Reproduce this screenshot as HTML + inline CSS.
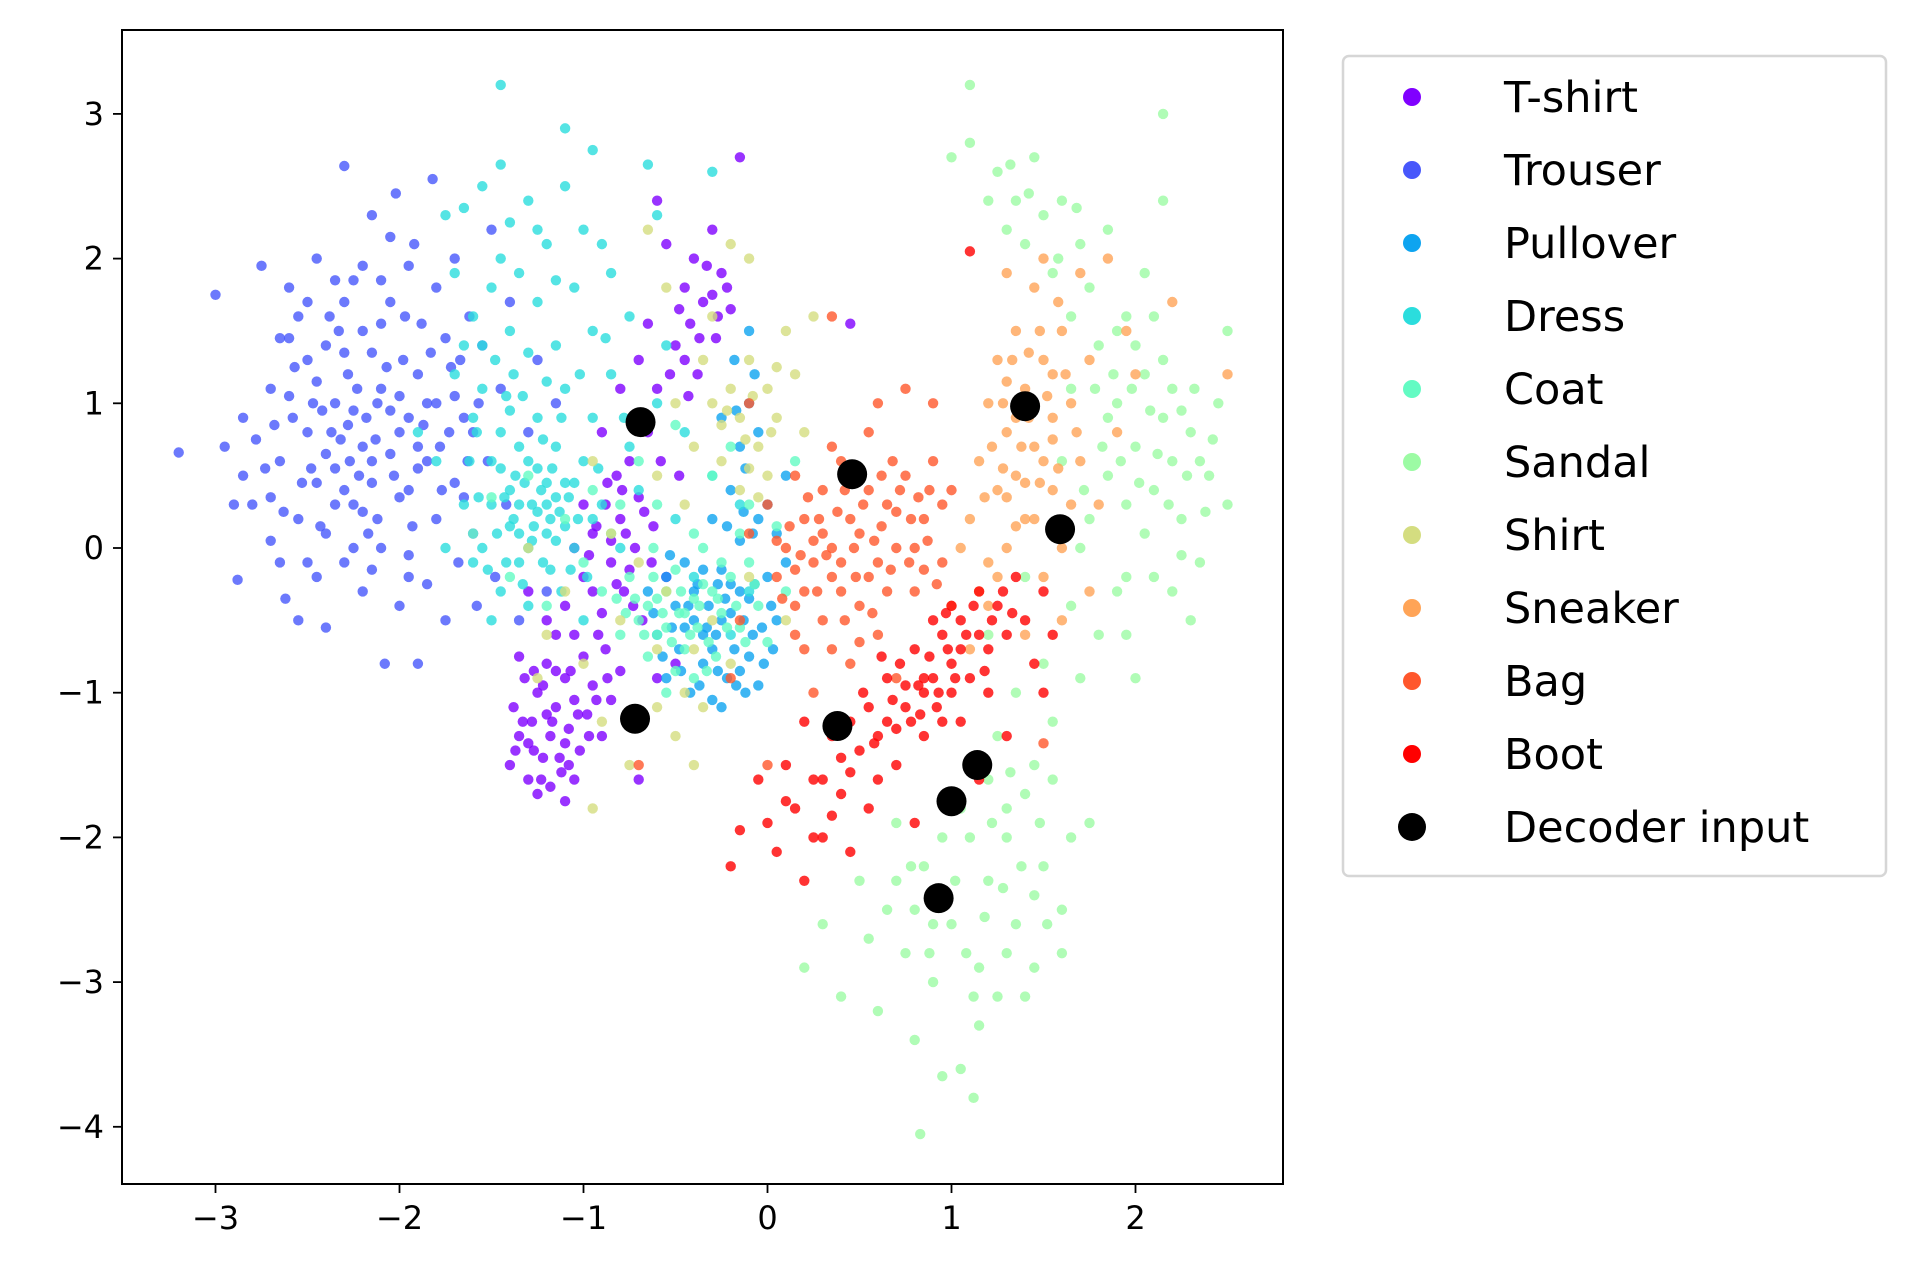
<!DOCTYPE html>
<html><head><meta charset="utf-8"><style>
body{margin:0;background:#fff}
svg{display:block}
text{font-family:"DejaVu Sans","Liberation Sans",sans-serif;fill:#000}
</style></head><body>
<svg id="chart" width="1908" height="1286" viewBox="0 0 1908 1286" xmlns="http://www.w3.org/2000/svg">
<g id="points"></g>
<rect x="122" y="30" width="1161" height="1154" fill="none" stroke="#000" stroke-width="2"/>
<g id="xticks"></g>
<g id="yticks"></g>
<g id="legend">
<rect x="1343" y="56" width="543" height="820" rx="6" fill="#fff" fill-opacity="0.8" stroke="#d6d6d6" stroke-width="2.5"/>
</g>
</svg>
<script>
const classNames=["T-shirt","Trouser","Pullover","Dress","Coat","Sandal","Shirt","Sneaker","Bag","Boot"];
const classColors=["#8000ff","#4757fb","#0ea4f0","#2bdddd","#63fbc3","#9cfba4","#d4dd80","#ffa457","#ff572c","#ff0000"];
const xTicks=[-3,-2,-1,0,1,2];
const yTicks=[3,2,1,0,-1,-2,-3,-4];
const tshirt=[[-1.4,-1.5],[-1.38,-1.1],[-1.35,-1.3],[-1.32,-0.9],[-1.3,-1.6],[-1.28,-1.2],[-1.25,-1.0],[-1.22,-1.45],[-1.2,-0.8],[-1.18,-1.3],[-1.15,-1.1],[-1.12,-1.55],[-1.1,-0.9],[-1.08,-1.25],[-1.05,-1.05],[-1.02,-1.4],[-1.0,-0.75],[-0.98,-1.15],[-0.95,-0.95],[-0.9,-1.3],[-0.88,-0.7],[-0.85,-1.05],[-0.8,-0.85],[-1.25,-1.7],[-1.1,-1.75],[-1.35,-0.75],[-1.15,-0.6],[-0.7,-1.6],[-1.3,-1.35],[-1.2,-1.15],[-1.1,-1.35],[-1.15,-0.85],[-1.05,-1.6],[-1.1,-0.4],[-1.0,-0.2],[-0.95,0.1],[-0.9,-0.45],[-0.88,0.3],[-0.85,-0.1],[-0.82,0.5],[-0.8,0.2],[-0.78,-0.3],[-0.75,0.6],[-0.72,0.0],[-0.7,0.35],[-0.68,-0.5],[-0.65,0.8],[-0.62,0.15],[-0.6,1.1],[-0.55,-0.2],[-0.5,1.4],[-0.48,0.5],[-0.45,1.8],[-0.42,1.55],[-0.4,2.0],[-0.38,1.2],[-0.35,1.7],[-0.3,2.2],[-0.28,1.45],[-0.25,1.9],[-0.2,1.65],[-0.15,2.7],[-0.55,2.1],[-0.6,2.4],[-0.65,1.55],[-0.7,1.3],[-0.8,1.1],[-0.9,0.8],[-1.0,0.3],[-1.05,-0.6],[-1.2,-0.5],[-1.3,-0.3],[-0.5,-0.8],[-0.6,-0.9],[0.45,1.55],[-0.95,-0.3],[-0.85,0.05],[-0.75,-0.15],[-0.92,-0.6],[-0.45,1.3],[-0.3,1.75],[-1.33,-1.2],[-1.27,-1.4],[-1.22,-0.95],[-1.17,-1.2],[-1.13,-1.45],[-1.07,-0.85],[-1.03,-1.15],[-0.97,-1.3],[-1.23,-1.6],[-1.37,-1.4],[-1.18,-1.65],[-1.08,-1.5],[-0.93,-1.05],[-0.87,-0.9],[-1.27,-0.85],[-0.82,-0.25],[-0.77,0.1],[-0.73,-0.4],[-0.67,0.25],[-0.63,-0.1],[-0.87,0.45],[-0.93,0.15],[-0.97,-0.05],[-0.58,0.6],[-0.53,1.2],[-0.48,1.65],[-0.37,1.45],[-0.33,1.95],[-0.27,1.6],[-0.22,1.8],[-0.43,1.05],[-1.05,0.0],[-0.79,0.4]];
const trouser=[[-3.2,0.66],[-3.0,1.75],[-2.95,0.7],[-2.88,-0.22],[-2.85,0.5],[-2.8,0.3],[-2.75,1.95],[-2.7,1.1],[-2.7,0.05],[-2.65,1.45],[-2.65,0.6],[-2.62,-0.35],[-2.6,1.8],[-2.58,0.9],[-2.55,0.2],[-2.5,1.3],[-2.5,-0.1],[-2.48,0.55],[-2.45,2.0],[-2.42,0.95],[-2.4,-0.55],[-2.38,1.6],[-2.35,0.3],[-2.32,0.75],[-2.3,2.64],[-2.28,1.2],[-2.25,0.0],[-2.25,1.85],[-2.22,0.5],[-2.2,1.5],[-2.2,-0.3],[-2.18,0.9],[-2.15,2.3],[-2.12,0.2],[-2.1,1.1],[-2.08,-0.8],[-2.05,0.65],[-2.05,1.7],[-2.02,2.45],[-2.0,0.35],[-1.98,1.3],[-1.95,-0.05],[-1.95,0.9],[-1.92,2.1],[-1.9,-0.8],[-1.9,0.55],[-1.88,1.55],[-1.85,-0.25],[-1.85,1.0],[-1.82,2.55],[-1.8,0.2],[-1.8,1.8],[-1.78,0.7],[-1.75,-0.5],[-1.72,1.25],[-1.7,0.45],[-1.7,2.0],[-1.68,-0.1],[-1.65,0.9],[-1.62,1.6],[-1.6,0.1],[-1.58,-0.4],[-1.55,1.4],[-1.52,0.6],[-1.5,2.2],[-1.48,-0.2],[-1.45,1.1],[-1.42,0.3],[-1.4,1.7],[-1.35,-0.5],[-1.3,0.8],[-1.25,1.3],[-1.2,-0.3],[-1.15,1.0],[-2.6,1.05],[-2.4,1.4],[-2.3,0.4],[-2.15,1.35],[-2.0,0.8],[-1.9,1.2],[-2.35,1.0],[-2.5,0.8],[-2.2,0.7],[-1.75,1.45],[-1.6,0.8],[-2.1,1.55],[-2.3,1.7],[-1.95,0.4],[-2.7,0.35],[-2.45,-0.2],[-2.55,1.6],[-2.0,-0.4],[-1.85,0.6],[-2.25,0.95],[-2.15,0.45],[-2.4,0.65],[-1.7,1.05],[-2.05,2.15],[-2.55,-0.5],[-2.1,0.0],[-2.3,1.35],[-1.8,1.0],[-2.45,1.15],[-2.0,1.05],[-2.2,0.25],[-1.65,0.35],[-2.78,0.75],[-2.73,0.55],[-2.68,0.85],[-2.63,0.25],[-2.57,1.25],[-2.53,0.45],[-2.47,1.0],[-2.43,0.15],[-2.37,0.8],[-2.33,1.5],[-2.27,0.6],[-2.23,1.1],[-2.17,0.1],[-2.13,0.75],[-2.07,1.25],[-2.03,0.5],[-1.97,1.6],[-1.93,0.15],[-1.87,0.85],[-1.83,1.35],[-1.77,0.4],[-1.73,0.8],[-1.67,1.3],[-1.63,0.6],[-1.57,1.0],[-2.6,1.45],[-2.5,1.7],[-2.35,1.85],[-2.2,1.95],[-2.1,1.85],[-1.95,1.95],[-2.4,0.1],[-2.3,-0.1],[-2.15,-0.15],[-1.95,-0.2],[-2.65,-0.1],[-2.85,0.9],[-2.9,0.3],[-2.45,0.45],[-2.25,0.3],[-2.05,0.95],[-1.9,0.7],[-2.35,0.55],[-2.15,0.6],[-2.28,0.85],[-2.12,1.0]];
const pullover=[[-0.65,-0.3],[-0.6,-0.6],[-0.55,-0.9],[-0.5,-0.4],[-0.48,-0.7],[-0.45,-0.1],[-0.42,-1.0],[-0.4,-0.5],[-0.38,-0.25],[-0.35,-0.8],[-0.32,-0.4],[-0.3,-1.05],[-0.28,-0.6],[-0.25,-0.15],[-0.22,-0.9],[-0.2,-0.45],[-0.18,-0.7],[-0.15,0.05],[-0.12,-1.0],[-0.1,-0.35],[-0.08,-0.6],[-0.05,0.2],[-0.02,-0.8],[0.0,-0.2],[0.05,-0.5],[-0.2,0.4],[-0.15,0.7],[-0.1,1.0],[-0.18,1.3],[-0.05,0.8],[-0.12,0.55],[0.0,0.3],[-0.25,0.9],[-0.3,0.2],[-0.45,-0.55],[-0.35,-0.6],[-0.25,-0.5],[-0.15,-0.3],[-0.55,-0.2],[0.1,-0.1],[-0.1,1.5],[-0.25,-1.1],[0.1,0.5],[-0.05,-0.95],[0.05,0.1],[-0.4,-0.3],[-0.3,-0.7],[-0.2,-0.25],[-0.1,-0.75],[-0.62,-0.45],[-0.57,-0.75],[-0.52,-0.55],[-0.47,-0.85],[-0.43,-0.4],[-0.37,-0.95],[-0.33,-0.55],[-0.27,-0.85],[-0.23,-0.35],[-0.17,-0.95],[-0.13,-0.5],[-0.07,-0.25],[-0.03,-0.55],[0.02,-0.4],[-0.22,0.15],[-0.08,0.1],[-0.17,0.95],[-0.07,1.2],[-0.13,0.25],[-0.27,-0.25],[-0.53,-0.05],[-0.35,-0.15],[0.03,-0.7],[-0.15,-0.85]];
const dress=[[-1.75,2.3],[-1.65,2.35],[-1.55,2.5],[-1.45,2.65],[-1.4,2.25],[-1.3,2.4],[-1.2,2.1],[-1.1,2.5],[-1.0,2.2],[-0.95,2.75],[-1.45,3.2],[-1.1,2.9],[-0.65,2.65],[-0.3,2.6],[-1.7,1.9],[-1.6,1.6],[-1.5,1.8],[-1.4,1.5],[-1.35,1.9],[-1.25,1.7],[-1.15,1.4],[-1.05,1.8],[-0.95,1.5],[-0.85,1.9],[-0.75,1.6],[-1.7,1.2],[-1.6,0.9],[-1.55,1.1],[-1.5,0.6],[-1.45,0.8],[-1.4,0.4],[-1.38,1.2],[-1.35,0.1],[-1.3,0.6],[-1.28,0.3],[-1.25,0.9],[-1.22,-0.1],[-1.2,0.45],[-1.18,0.2],[-1.15,0.7],[-1.12,-0.3],[-1.1,1.1],[-1.08,0.35],[-1.05,0.0],[-1.0,0.6],[-0.98,-0.2],[-0.95,0.9],[-0.9,0.3],[-0.85,1.2],[-0.8,0.0],[-0.75,0.7],[-0.7,0.4],[-1.65,0.3],[-1.6,-0.1],[-1.55,0.0],[-1.5,0.3],[-1.45,-0.3],[-1.4,0.15],[-1.35,-0.1],[-1.32,0.45],[-1.28,0.05],[-1.25,0.25],[-1.2,0.1],[-1.18,-0.15],[-1.15,0.35],[-1.1,0.15],[-1.5,-0.5],[-1.3,-0.4],[-1.0,-0.5],[-0.6,1.0],[-0.55,1.4],[-0.5,0.2],[-0.45,0.8],[-0.4,-0.2],[-0.3,0.5],[-0.2,-0.6],[-0.1,-0.3],[-0.15,0.3],[-1.8,0.6],[-1.75,0.0],[-1.9,0.8],[-1.45,0.55],[-1.35,0.7],[-1.25,0.55],[-1.4,0.95],[-1.3,1.35],[-1.2,1.15],[-0.6,2.3],[-1.05,0.45],[-1.35,0.3],[-1.15,0.05],[-0.95,0.2],[-1.62,0.6],[-1.57,0.35],[-1.52,-0.15],[-1.47,0.1],[-1.43,0.35],[-1.37,0.5],[-1.33,-0.25],[-1.27,0.15],[-1.23,0.4],[-1.17,0.55],[-1.13,0.25],[-1.07,-0.15],[-1.03,0.2],[-1.48,1.3],[-1.42,1.05],[-1.33,1.05],[-1.22,0.75],[-1.12,0.9],[-1.02,1.2],[-0.92,0.55],[-0.88,1.45],[-0.78,0.9],[-1.65,1.4],[-1.55,1.4],[-1.45,2.0],[-1.25,2.2],[-1.15,1.85],[-0.9,2.1],[-1.58,0.8],[-1.42,-0.1],[-1.38,0.2],[-1.3,0.0],[-1.2,0.3],[-1.1,0.45]];
const coat=[[-0.9,-0.3],[-0.8,-0.6],[-0.75,-0.2],[-0.7,-0.5],[-0.65,-0.75],[-0.6,-0.35],[-0.55,-0.55],[-0.5,-0.15],[-0.48,-0.45],[-0.45,-0.7],[-0.4,-0.35],[-0.38,-0.55],[-0.35,0.0],[-0.3,-0.3],[-0.28,-0.75],[-0.25,-0.45],[-0.2,-0.2],[-0.15,-0.55],[-0.1,-0.1],[-0.05,-0.4],[0.0,-0.65],[0.05,0.15],[0.1,-0.3],[0.15,0.6],[-0.6,0.3],[-0.7,0.6],[-0.85,0.1],[-0.95,0.4],[-1.1,0.2],[-1.2,-0.4],[-1.3,0.5],[-1.4,-0.2],[-0.55,-1.0],[-0.4,-0.9],[-0.3,0.5],[-0.2,0.7],[-1.5,0.35],[-0.5,0.85],[-0.65,-0.4],[-0.35,-0.25],[-0.6,-0.6],[-0.45,-0.45],[-0.55,-0.3],[-0.25,-0.1],[-1.0,-0.1],[-0.8,0.3],[-0.1,0.3],[-1.6,0.1],[-0.72,-0.35],[-0.67,-0.6],[-0.62,-0.2],[-0.57,-0.45],[-0.52,-0.65],[-0.47,-0.3],[-0.42,-0.6],[-0.37,-0.4],[-0.32,-0.65],[-0.27,-0.35],[-0.22,-0.55],[-0.17,-0.4],[-0.12,-0.65],[-0.07,-0.25],[-0.77,-0.45],[-0.82,-0.35],[-0.5,-0.85],[-0.33,-0.85],[-0.62,0.0],[-0.4,0.1],[-0.15,0.1]];
const sandal=[[1.0,2.7],[1.1,3.2],[1.1,2.8],[1.2,2.4],[1.25,2.6],[1.3,2.2],[1.35,2.4],[1.4,2.1],[1.45,2.7],[1.5,2.3],[1.55,1.9],[1.6,2.4],[1.65,1.6],[1.7,2.1],[1.75,1.8],[1.8,1.4],[1.85,2.2],[1.9,1.0],[1.95,1.6],[2.0,0.7],[2.05,1.2],[2.1,0.4],[2.15,0.9],[2.2,1.1],[2.25,0.2],[2.3,0.8],[2.35,-0.1],[2.4,0.5],[2.45,1.0],[2.5,1.5],[2.5,0.3],[2.15,3.0],[2.15,2.4],[2.05,1.9],[1.95,0.3],[1.9,-0.3],[1.85,0.5],[1.8,-0.6],[1.75,0.2],[1.7,-0.9],[1.65,-0.4],[1.6,0.6],[1.55,-1.2],[1.5,-0.8],[1.45,-1.5],[1.4,-0.2],[1.35,-1.0],[1.3,-1.8],[1.25,-1.3],[1.2,-0.6],[2.0,-0.9],[2.3,-0.5],[2.1,-0.2],[1.95,-0.6],[2.0,1.4],[2.2,0.6],[1.85,0.9],[1.9,1.5],[2.35,0.6],[2.2,-0.3],[1.65,1.1],[1.7,0.0],[0.2,-2.9],[0.3,-2.6],[0.4,-3.1],[0.5,-2.3],[0.55,-2.7],[0.6,-3.2],[0.65,-2.5],[0.7,-1.9],[0.75,-2.8],[0.8,-3.4],[0.85,-2.2],[0.9,-3.0],[0.95,-3.65],[1.0,-2.6],[1.05,-3.6],[1.1,-2.0],[1.12,-3.8],[1.15,-2.9],[1.2,-2.3],[1.25,-3.1],[1.3,-2.0],[1.35,-2.6],[1.4,-1.7],[1.45,-2.9],[1.5,-2.2],[1.55,-1.6],[1.6,-2.5],[1.65,-2.0],[1.45,-2.4],[0.83,-4.05],[1.15,-3.3],[0.7,-2.3],[0.9,-2.6],[1.3,-2.8],[1.4,-3.1],[1.05,-1.8],[0.95,-2.0],[1.2,-1.6],[1.6,-2.8],[1.75,-1.9],[0.8,-2.5],[2.08,0.95],[2.12,0.65],[2.18,0.3],[2.25,0.95],[2.28,0.5],[2.32,1.1],[2.38,0.25],[2.42,0.75],[1.98,1.1],[2.02,0.45],[1.88,1.2],[1.82,0.7],[1.92,0.6],[2.05,0.1],[2.15,1.3],[2.25,-0.05],[1.78,1.1],[1.72,0.4],[1.95,-0.2],[2.1,1.6],[1.68,2.35],[1.42,2.45],[1.32,2.65],[1.58,2.0],[1.02,-2.3],[1.08,-2.8],[1.18,-2.55],[1.28,-2.35],[1.38,-2.2],[1.48,-1.9],[0.88,-2.8],[0.78,-2.2],[1.22,-1.9],[1.32,-1.55],[1.52,-2.6],[1.12,-3.1]];
const shirt=[[-1.2,-0.6],[-1.1,-0.3],[-1.0,-0.8],[-0.9,-1.2],[-0.95,-1.8],[-0.75,-1.5],[-0.6,-1.1],[-0.5,-1.3],[-0.35,-1.1],[-0.4,-1.5],[-0.85,0.1],[-0.7,-0.1],[-0.6,0.5],[-0.5,1.0],[-0.45,0.3],[-0.4,0.7],[-0.35,1.3],[-0.3,1.0],[-0.25,0.6],[-0.2,1.1],[-0.15,0.9],[-0.1,1.3],[-0.05,0.7],[0.0,1.1],[0.05,0.9],[0.1,1.5],[0.15,1.2],[0.2,0.8],[0.25,1.6],[-0.1,2.0],[-0.3,1.6],[-0.55,1.8],[-0.65,2.2],[-0.2,2.1],[0.0,0.5],[-0.15,0.4],[-0.55,-0.3],[-0.3,-0.5],[-0.2,-0.8],[-0.1,-0.2],[0.1,-0.5],[-1.3,0.0],[-1.25,-0.9],[-0.8,-0.5],[-0.95,0.6],[-0.1,0.55],[0.05,1.25],[-0.25,0.85],[-0.12,0.75],[-0.08,1.05],[0.02,0.8],[-0.22,0.95],[-0.05,0.35],[-0.4,-0.7],[-0.6,-0.7],[-0.45,-1.0]];
const sneaker=[[1.1,0.2],[1.15,0.6],[1.2,1.0],[1.2,-0.1],[1.25,0.4],[1.25,1.3],[1.3,0.8],[1.3,0.0],[1.35,1.5],[1.35,0.5],[1.4,1.1],[1.4,0.2],[1.45,0.7],[1.45,1.8],[1.5,1.3],[1.5,-0.2],[1.55,0.9],[1.55,0.4],[1.6,1.5],[1.6,0.0],[1.65,1.0],[1.7,0.6],[1.7,1.9],[1.75,1.3],[1.8,0.3],[1.85,2.0],[1.9,0.8],[1.95,1.5],[1.3,1.9],[1.0,-0.4],[1.1,-0.7],[1.2,-0.4],[1.05,0.0],[1.5,2.0],[1.6,-0.5],[1.75,-0.3],[1.4,-0.6],[1.35,0.9],[1.5,0.6],[1.45,1.0],[2.0,1.2],[2.5,1.2],[2.2,1.7],[1.55,1.2],[1.3,0.35],[1.65,0.3],[1.4,0.45],[1.55,0.75],[1.3,1.15],[1.45,0.2],[1.22,0.7],[1.28,0.55],[1.33,1.3],[1.38,0.7],[1.42,0.9],[1.48,0.45],[1.52,1.05],[1.58,0.55],[1.62,1.2],[1.68,0.8],[1.28,1.0],[1.35,0.15],[1.48,1.5],[1.58,1.7],[1.42,1.35],[1.18,0.35],[1.25,-0.2],[1.15,-0.3]];
const bag=[[0.0,0.3],[0.05,-0.2],[0.1,0.0],[0.15,-0.4],[0.2,0.2],[0.2,-0.7],[0.25,-0.1],[0.3,0.4],[0.3,-0.5],[0.35,0.0],[0.4,-0.3],[0.4,0.6],[0.45,-0.8],[0.5,0.1],[0.5,-0.4],[0.55,0.4],[0.6,-0.1],[0.6,-0.6],[0.65,0.3],[0.7,0.0],[0.7,-0.9],[0.75,0.5],[0.8,-0.3],[0.85,0.2],[0.9,0.6],[0.95,-0.1],[1.0,0.4],[0.75,1.1],[0.6,1.0],[0.9,1.0],[0.55,0.8],[0.35,0.7],[0.15,0.5],[-0.1,0.1],[-0.15,-0.5],[-0.2,-0.9],[0.25,-1.0],[0.0,-1.5],[0.35,-0.2],[0.45,0.2],[0.65,-0.3],[0.8,0.0],[0.55,-0.2],[0.3,0.1],[0.2,-0.3],[-0.1,1.0],[0.35,1.6],[-0.7,-1.5],[1.5,-1.35],[0.95,0.3],[0.25,0.05],[0.4,-0.1],[0.15,-0.15],[0.7,0.25],[0.85,-0.15],[0.5,-0.65],[0.12,0.15],[0.18,-0.05],[0.22,0.35],[0.27,-0.3],[0.32,-0.05],[0.38,0.25],[0.42,-0.5],[0.47,0.0],[0.52,0.3],[0.57,-0.45],[0.62,0.15],[0.67,-0.15],[0.72,0.4],[0.77,-0.1],[0.82,0.35],[0.87,0.05],[0.92,-0.25],[0.08,-0.35],[0.28,0.2],[0.48,-0.2],[0.58,0.05],[0.68,0.6],[0.78,0.2],[0.88,0.4],[0.35,-0.7],[0.15,-0.6],[0.05,0.05],[0.62,0.5],[0.42,0.4]];
const boot=[[-0.2,-2.2],[-0.15,-1.95],[-0.05,-1.6],[0.0,-1.9],[0.05,-2.1],[0.1,-1.5],[0.15,-1.8],[0.2,-2.3],[0.25,-1.6],[0.3,-2.0],[0.35,-1.3],[0.4,-1.7],[0.45,-2.1],[0.5,-1.4],[0.55,-1.1],[0.55,-1.8],[0.6,-1.3],[0.65,-0.9],[0.7,-1.5],[0.75,-1.1],[0.8,-0.7],[0.85,-1.3],[0.9,-0.9],[0.92,-1.1],[0.95,-0.6],[1.0,-1.0],[1.0,-0.8],[1.05,-0.5],[1.1,-0.9],[1.15,-0.3],[1.2,-0.7],[1.25,-0.4],[1.3,-0.6],[1.35,-0.2],[1.4,-0.5],[1.45,-0.8],[1.5,-0.3],[1.5,-1.0],[1.55,-0.6],[0.85,-0.9],[0.95,-1.2],[0.75,-0.95],[0.65,-1.2],[0.45,-1.2],[1.05,-1.2],[1.15,-0.6],[0.9,-0.5],[1.0,-0.4],[1.2,-1.0],[1.3,-1.3],[0.3,-1.6],[0.2,-1.2],[1.15,-1.6],[0.8,-1.9],[0.45,-1.55],[1.1,2.05],[0.85,-1.0],[1.05,-0.7],[0.6,-1.6],[0.7,-1.25],[0.72,-0.8],[0.78,-1.2],[0.82,-0.95],[0.88,-0.75],[0.93,-1.0],[0.98,-0.7],[1.02,-0.9],[1.08,-0.6],[1.12,-0.4],[1.18,-0.85],[1.22,-0.5],[1.28,-0.3],[1.33,-0.45],[0.68,-1.05],[0.58,-1.35],[0.52,-1.0],[0.62,-0.75],[0.83,-1.15],[0.97,-0.45],[0.4,-1.45],[0.1,-1.75],[0.25,-2.0],[0.35,-1.85]];
const decoderX=[-0.69,0.46,1.40,1.59,-0.72,0.38,1.14,1.00,0.93];
const decoderY=[0.87,0.51,0.98,0.13,-1.18,-1.23,-1.50,-1.75,-2.42];

const NS="http://www.w3.org/2000/svg";
const classPoints=[tshirt,trouser,pullover,dress,coat,sandal,shirt,sneaker,bag,boot];
function xs(v){return 767.5+v*184.0;}
function ys(v){return 548-v*144.7;}
function mk(tag,attrs,parent){const e=document.createElementNS(NS,tag);for(const k in attrs)e.setAttribute(k,attrs[k]);parent.appendChild(e);return e;}
const pts=document.getElementById('points');
classPoints.forEach((arr,ci)=>{
  const g=mk('g',{},pts);
  
  
  arr.forEach(p=>{
    const c=mk('circle',{cx:xs(p[0]),cy:ys(p[1]),r:5.2,fill:classColors[ci],'fill-opacity':0.8},g);
    
    
  });
});
const dg=mk('g',{},pts);


decoderX.forEach((x,i)=>{
  const c=mk('circle',{cx:xs(x),cy:ys(decoderY[i]),r:15,fill:'#000'},dg);
  
  
});
function lab(v){return v<0?'\u2212'+Math.abs(v):String(v);}
const xg=document.getElementById('xticks');
xTicks.forEach(v=>{
  const l=mk('line',{x1:xs(v),x2:xs(v),y1:1184,y2:1193,stroke:'#000','stroke-width':1.8},xg);
  
  
  const t=mk('text',{x:xs(v),y:1229,'font-size':32,'text-anchor':'middle'},xg);
  t.textContent=lab(v);
  
  
});
const yg=document.getElementById('yticks');
yTicks.forEach(v=>{
  const l=mk('line',{x1:113,x2:122,y1:ys(v),y2:ys(v),stroke:'#000','stroke-width':1.8},yg);
  
  
  const t=mk('text',{x:104,y:ys(v)+11,'font-size':32,'text-anchor':'end'},yg);
  t.textContent=lab(v);
  
  
});
const lg=document.getElementById('legend');
const legendNames=classNames.concat(['Decoder input']);
const legendColors=classColors.concat(['#000']);
legendNames.forEach((n,i)=>{
  const y=97+i*73.0;
  const e=mk('g',{},lg);
  
  
  mk('circle',{cx:1412,cy:y,r:i===10?14:9,fill:legendColors[i]},e);
  const t=mk('text',{x:1504,y:y+15,'font-size':43},e);
  t.textContent=n;
});
</script>
</body></html>
